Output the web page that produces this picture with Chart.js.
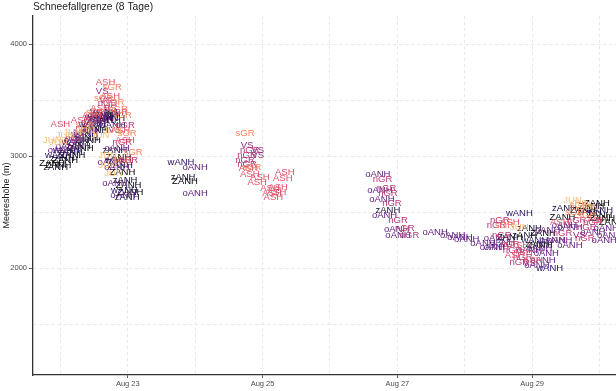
<!DOCTYPE html>
<html>
<head>
<meta charset="utf-8">
<script src="https://cdn.jsdelivr.net/npm/chart.js@4.4.1/dist/chart.umd.min.js"></script>
<style>
  html, body { margin: 0; padding: 0; background: #fff; }
  #wrap { width: 616px; height: 391px; position: relative; }
</style>
</head>
<body>
<div id="wrap"><canvas id="snow-chart"></canvas></div>
<script>
// Tage im August (Dezimal), Höhe in m
const ZANH = [[21.88, 2937], [21.97, 2919], [22.07, 2964], [22.18, 3009], [22.30, 3071], [22.41, 3143], [22.52, 3232], [22.59, 3321], [22.67, 3366], [22.77, 3339], [22.86, 2991], [22.92, 2857], [23.01, 2741], [23.04, 2679], [23.85, 2777], [28.67, 2277], [29.16, 2312], [29.11, 2205], [29.45, 2455], [29.75, 2518], [30.04, 2446], [29.88, 2550], [29.96, 2580], [30.00, 2473], [30.18, 2411]];
const zANH = [[21.93, 2902], [22.03, 2982], [22.15, 3036], [22.27, 3089], [22.38, 3161], [22.50, 3250], [22.59, 3339], [22.71, 3375], [22.81, 3053], [22.89, 2919], [22.96, 2786], [22.99, 2634], [23.82, 2812], [26.86, 2518], [28.89, 2294], [28.96, 2357], [29.08, 2214], [29.48, 2536], [29.85, 2500]];
const wANH = [[21.97, 3009], [22.09, 3053], [22.22, 3125], [22.36, 3196], [22.47, 3286], [22.56, 3348], [22.65, 3393], [22.77, 3277], [22.86, 2964], [22.95, 2696], [23.79, 2946], [28.81, 2491], [29.04, 2250], [29.26, 2000], [30.00, 2518]];
const oANH = [[22.00, 3053], [22.12, 3089], [22.24, 3143], [22.37, 3214], [22.49, 3304], [22.59, 3366], [22.71, 3321], [22.84, 3071], [22.74, 2946], [22.84, 2902], [22.81, 2759], [22.93, 2652], [24.00, 2902], [24.00, 2670], [26.71, 2839], [26.74, 2696], [26.77, 2616], [26.81, 2473], [26.99, 2348], [27.01, 2294], [27.56, 2321], [27.82, 2294], [27.93, 2277], [28.03, 2259], [28.27, 2223], [28.41, 2187], [28.47, 2268], [28.56, 2232], [28.47, 2187], [28.96, 2160], [29.11, 2178], [29.21, 2134], [29.16, 2071], [29.07, 2027], [29.23, 2339], [29.30, 2250], [29.48, 2384], [29.56, 2366], [29.56, 2205], [30.10, 2357], [29.90, 2321], [30.15, 2294], [30.07, 2250], [29.41, 2250]];
const VS = [[22.15, 3143], [22.30, 3214], [22.44, 3304], [22.53, 3393], [22.62, 3580], [22.67, 3500], [22.74, 3429], [22.81, 3232], [24.77, 3098], [24.93, 3053], [24.93, 3009], [28.96, 2045], [29.70, 2294]];
const nGR = [[22.22, 3161], [22.37, 3250], [22.52, 3339], [22.70, 3473], [22.86, 3393], [22.96, 3277], [22.92, 3125], [23.01, 2964], [24.81, 3053], [24.77, 3009], [24.74, 2964], [24.77, 2928], [26.78, 2795], [26.84, 2714], [26.86, 2670], [26.92, 2580], [27.01, 2428], [27.11, 2357], [27.18, 2294], [28.47, 2384], [28.52, 2428], [28.55, 2294], [28.67, 2214], [28.71, 2160], [28.81, 2053], [28.86, 2098], [29.66, 2428], [29.78, 2268], [29.81, 2366], [29.90, 2411], [29.45, 2312]];
const ASH = [[22.00, 3286], [22.30, 3321], [22.47, 3366], [22.59, 3429], [22.67, 3661], [22.74, 3536], [22.89, 3232], [22.96, 3143], [24.79, 2893], [24.81, 2839], [24.96, 2812], [24.92, 2768], [25.33, 2857], [25.30, 2803], [25.23, 2723], [25.21, 2679], [25.14, 2670], [25.16, 2634], [25.11, 2714], [28.67, 2411], [28.74, 2116], [28.81, 2205], [28.86, 2143], [29.01, 2071], [29.41, 2411], [29.96, 2428]];
const sGR = [[22.37, 3277], [22.52, 3393], [22.64, 3518], [22.77, 3616], [22.81, 3482], [22.86, 3420], [22.92, 3366], [22.99, 3205], [23.08, 3036], [22.92, 2964], [24.74, 3205], [24.84, 2902], [28.59, 2384], [29.63, 2500], [29.81, 2473], [29.70, 2562]];
const JUN = [[21.88, 3143], [21.97, 3125], [22.07, 3187], [22.18, 3214], [22.37, 3232], [22.59, 3187], [22.70, 3009], [22.70, 2919], [22.79, 2848], [22.77, 3232], [28.81, 2366], [29.60, 2607], [29.73, 2580], [29.85, 2545]];

const stations = ['ZANH', 'zANH', 'wANH', 'oANH', 'VS', 'nGR', 'ASH', 'sGR', 'JUN'];
const stationData = [ZANH, zANH, wANH, oANH, VS, nGR, ASH, sGR, JUN];
const stationColors = ['#000004', '#120d31', '#2a1160', '#5f187f', '#8c2981', '#b83779', '#e04f67', '#f8805c', '#f9c07f'];

const xTicks = [22, 23, 24, 25, 26, 27, 28, 29, 30];
const yTicks = [1500, 2000, 2500, 3000, 3500, 4000];

// Beschriftungen an den Punkten zeichnen
const textLabels = {
    id: 'textLabels',
    afterDatasetsDraw(chart) {
        const ctx = chart.ctx;
        ctx.save();
        ctx.font = '9.5px "Liberation Sans", Arial, sans-serif';
        ctx.textAlign = 'center';
        ctx.textBaseline = 'middle';
        chart.data.datasets.forEach((ds, i) => {
            ctx.fillStyle = ds.borderColor;
            chart.getDatasetMeta(i).data.forEach(pt => {
                ctx.fillText(ds.label, pt.x, pt.y);
            });
        });
        ctx.restore();
    }
};

// Titel links über dem Panel
const panelTitle = {
    id: 'panelTitle',
    afterDraw(chart) {
        const ctx = chart.ctx;
        ctx.save();
        ctx.font = '10.3px "Liberation Sans", Arial, sans-serif';
        ctx.fillStyle = '#1a1a1a';
        ctx.textAlign = 'left';
        ctx.textBaseline = 'middle';
        ctx.fillText('Schneefallgrenze (8 Tage)', chart.chartArea.left, 7);
        ctx.restore();
    }
};

const ctx = document.getElementById('snow-chart').getContext('2d');
new Chart(ctx, {
    type: 'scatter',
    data: {
        datasets: stations.map((s, i) => ({
            label: s,
            data: stationData[i].map(p => ({ x: p[0], y: p[1] })),
            borderColor: stationColors[i],
            backgroundColor: stationColors[i],
            pointRadius: 0,
            pointHoverRadius: 0,
            showLine: false
        }))
    },
    options: {
        responsive: true,
        maintainAspectRatio: false,
        animation: false,
        layout: { padding: { top: 16, right: 0, bottom: 0, left: 0 } },
        plugins: {
            legend: { display: false },
            tooltip: { enabled: false }
        },
        scales: {
            x: {
                type: 'linear',
                min: 21.594,
                max: 30.244,
                afterBuildTicks: scale => { scale.ticks = xTicks.map(v => ({ value: v })); },
                afterFit: scale => { scale.height = 16; },
                ticks: {
                    autoSkip: false,
                    maxRotation: 0,
                    padding: 1,
                    color: '#4d4d4d',
                    font: { size: 7.5, family: '"Liberation Sans", Arial, sans-serif' },
                    callback: v => (v % 2 === 1 ? 'Aug ' + v : '')
                },
                grid: {
                    color: '#e3e3e3',
                    lineWidth: 0.8,
                    tickLength: 3,
                    tickColor: c => (c.tick && c.tick.value % 2 === 1 ? '#333' : 'rgba(0,0,0,0)')
                },
                border: { display: true, color: '#333', width: 1.3, dash: [3, 3] }
            },
            y: {
                type: 'linear',
                min: 1045,
                max: 4250,
                afterBuildTicks: scale => { scale.ticks = yTicks.map(v => ({ value: v })); },
                afterFit: scale => { scale.width = 33; },
                title: {
                    display: true,
                    text: 'Meereshöhe (m)',
                    color: '#1a1a1a',
                    padding: 1,
                    font: { size: 9, family: '"Liberation Sans", Arial, sans-serif' }
                },
                ticks: {
                    autoSkip: false,
                    padding: 2,
                    color: '#4d4d4d',
                    font: { size: 7.5, family: '"Liberation Sans", Arial, sans-serif' },
                    callback: v => (v % 1000 === 0 ? String(v) : '')
                },
                grid: {
                    color: '#e3e3e3',
                    lineWidth: 0.8,
                    tickLength: 4,
                    tickColor: c => (c.tick && c.tick.value % 1000 === 0 ? '#333' : 'rgba(0,0,0,0)')
                },
                border: { display: true, color: '#333', width: 1.3, dash: [3, 3] }
            }
        }
    },
    plugins: [textLabels, panelTitle]
});
</script>
</body>
</html>
